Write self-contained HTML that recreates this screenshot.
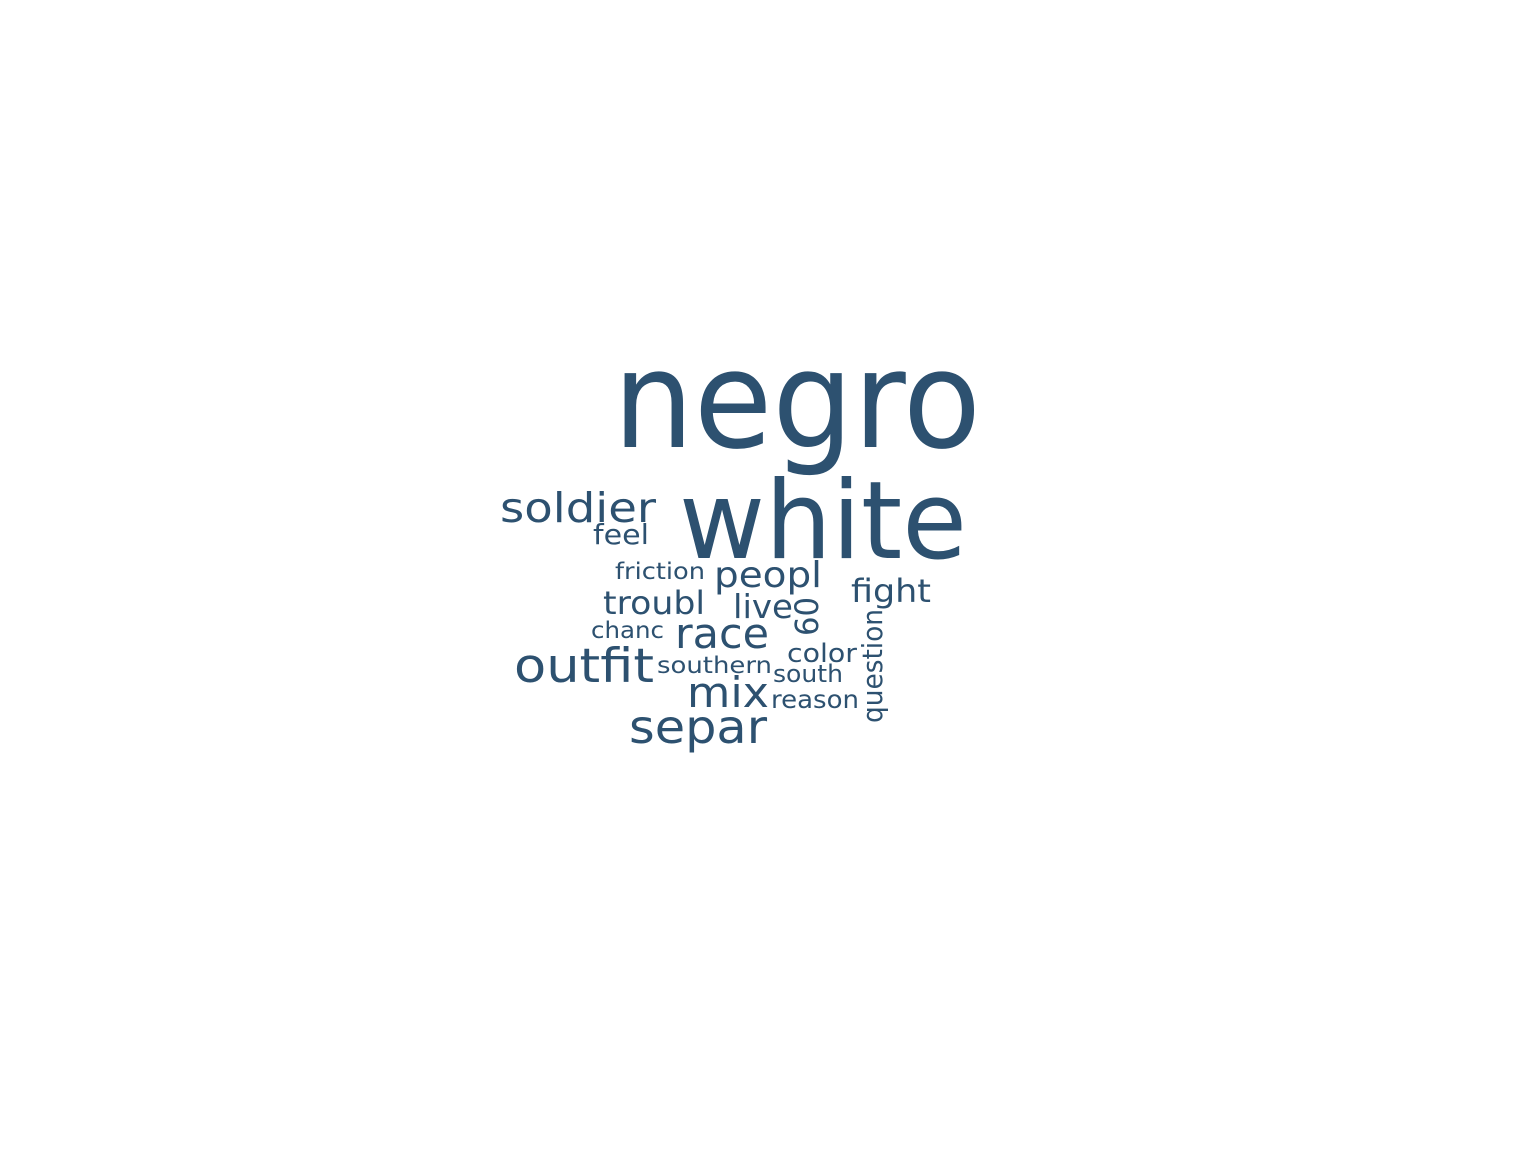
<!DOCTYPE html>
<html><head><meta charset="utf-8">
<style>
html,body{margin:0;padding:0;background:#fff;}
svg{display:block;}
text{font-family:"DejaVu Sans","Liberation Sans",sans-serif;fill:#2d5170;}
</style></head>
<body>
<svg id="cloud" width="1536" height="1152" viewBox="0 0 1536 1152" xmlns="http://www.w3.org/2000/svg"></svg>
<script>
const words = ["negro","white","soldier","feel","friction","peopl","fight","troubl","live","60","chanc","race","color","outfit","southern","south","mix","reason","separ","question"];
const sizes = [135,108,41,28,23,36,32,32,33,32,23,42,26,47,23,24,42,25,46,28];
const xs = [613,679,500,593,615,714,851,603,733,818,591,675,787,514,657,773,687,771,629,882];
const ys = [447,558,522,544,579,587,602,614,618,636,638,648,662,682,673,682,707,708,743,723];
const lens = [368,288,156,56,90,108,80,102,60,39,73,94,70,140,115,70,82,88,138,114];
const rot = [0,0,0,0,0,0,0,0,0,-90,0,0,0,0,0,0,0,0,0,-90];
const svg = document.getElementById('cloud');
const NS = 'http://www.w3.org/2000/svg';
for (let i = 0; i < words.length; i++) {
  const t = document.createElementNS(NS, 'text');
  
  
  t.setAttribute('font-size', sizes[i]);
  t.setAttribute('textLength', lens[i]);
  t.setAttribute('lengthAdjust', 'spacingAndGlyphs');
  t.setAttribute('x', 0);
  t.setAttribute('y', 0);
  t.setAttribute('transform', 'translate(' + xs[i] + ',' + ys[i] + ') rotate(' + rot[i] + ')');
  t.textContent = words[i];
  svg.appendChild(t);
}
</script>
</body></html>
